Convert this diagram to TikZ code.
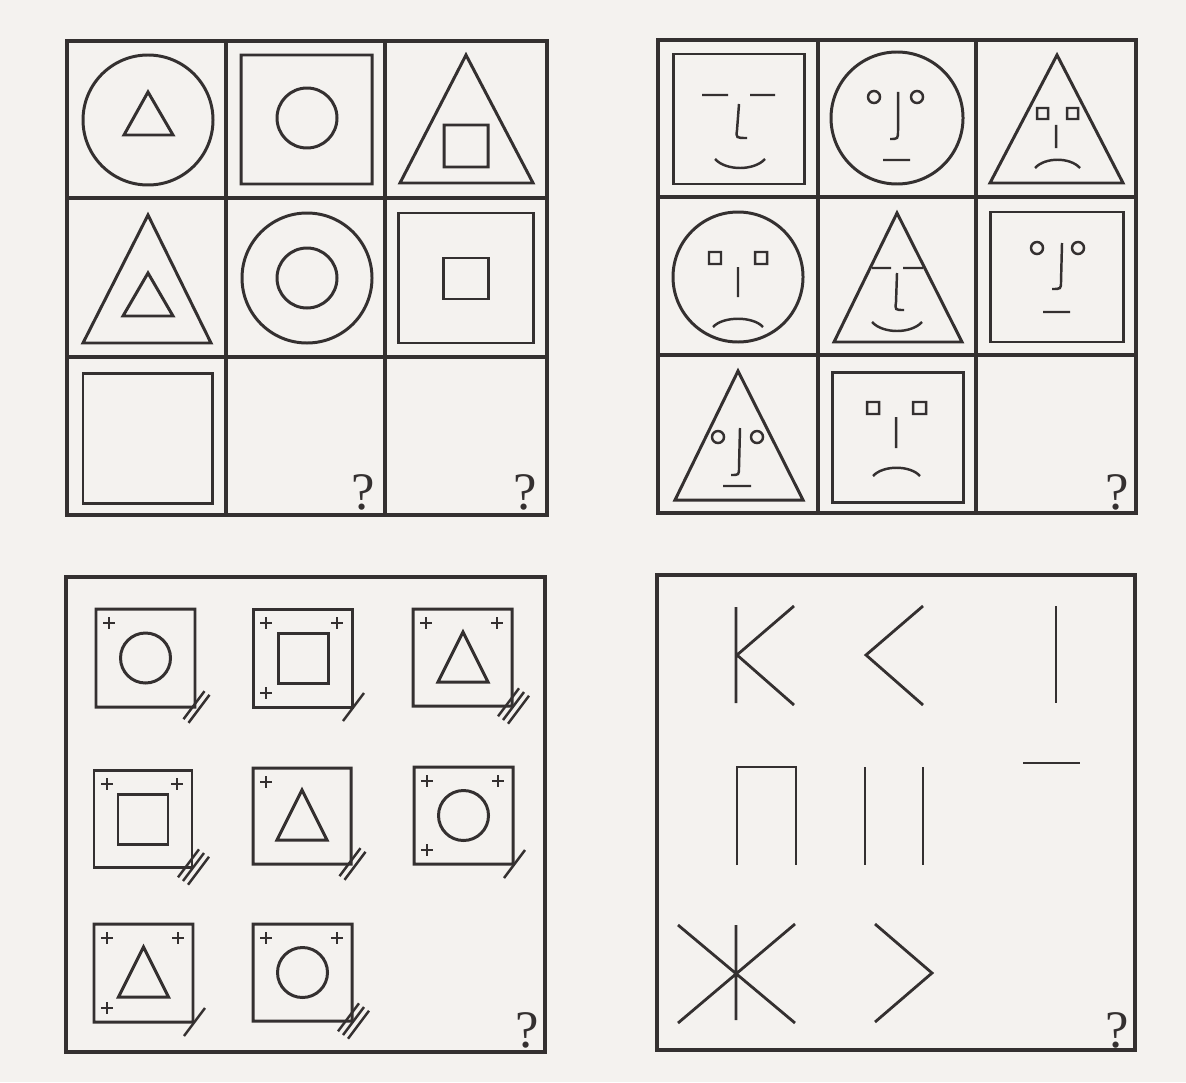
\documentclass[tikz,border=0pt]{standalone}
\usepackage{fontspec}
\newfontfamily\qfont{Liberation Serif}
\definecolor{ink}{RGB}{52,48,48}
\definecolor{paper}{RGB}{244,242,239}
% small marks of the third panel
\newcommand\plusmark[2]{\draw[feat] (#1-6,#2) -- (#1+6,#2) (#1,#2-6) -- (#1,#2+6);}
\newcommand\hatchmarks[3]{\foreach \k in {1,...,#3}
  {\draw[hatch] ({#1+5*(\k-(#3+1)/2)-9},{#2+3.7*(\k-(#3+1)/2)+14}) -- ++(21,-28);}}
\begin{document}
\begin{tikzpicture}[x=0.01cm, y=-0.01cm,
  frame/.style={draw=ink, line width=0.95pt},
  shp/.style={draw=ink, line width=0.85pt},
  feat/.style={draw=ink, line width=0.7pt},
  hatch/.style={draw=ink, line width=0.7pt},
  stroke/.style={draw=ink, line width=0.8pt},
  qm/.style={font=\qfont\fontsize{15}{15}\selectfont, text=ink, inner sep=0pt}
]
\fill[paper] (0,0) rectangle (1186,1082);
\useasboundingbox (0,0) rectangle (1186,1082);

% panel 1: shapes in shapes
\draw[frame] (67,41) rectangle (547,515)
  (226,41) -- (226,515) (385,41) -- (385,515)
  (67,198) -- (547,198) (67,357) -- (547,357);
\draw[shp] (148,120) circle (65) (148,92) -- (124,135) -- (173,135) -- cycle;
\draw[shp] (241,55) rectangle (372,184) (307,118) circle (30);
\draw[shp] (466,55) -- (400,183) -- (533,183) -- cycle (444,125) rectangle (488,167);
\draw[shp] (148,215) -- (83,343) -- (211,343) -- cycle (148,273) -- (123,316) -- (173,316) -- cycle;
\draw[shp] (307,278) circle (65) (307,278) circle (30);
\draw[shp] (398,213) rectangle (533,343) (443,258) rectangle (488,299);
\draw[shp] (83,373) rectangle (212,503);
\node[qm] (q1) at (363,492) {?};
\node[qm] (q2) at (525,492) {?};

% panel 2: faces
\draw[frame] (658,40) rectangle (1136,513)
  (818,40) -- (818,513) (976,40) -- (976,513)
  (658,197) -- (1136,197) (658,355) -- (1136,355);
\draw[shp] (673,54) rectangle (804,184);
\draw[feat] (702,95) -- (728,95) (750,95) -- (775,95)
  (739,104) -- (737,130) .. controls (736,138) .. (747,138)
  (715,159) .. controls (726,171) and (754,171) .. (765,159);
\draw[shp] (897,118) circle (66);
\draw[feat] (874,97) circle (6) (917,97) circle (6)
  (898,92) -- (898,130) .. controls (898,139) .. (890,139)
  (883,160) -- (910,160);
\draw[shp] (1057,55) -- (990,183) -- (1123,183) -- cycle;
\draw[feat] (1037,108) rectangle (1048,119) (1067,108) rectangle (1078,119)
  (1056,125) -- (1056,148)
  (1035,168) .. controls (1045,157) and (1070,157) .. (1080,168);
\draw[shp] (738,277) circle (65);
\draw[feat] (709,252) rectangle (721,264) (755,252) rectangle (767,264)
  (738,267) -- (738,297)
  (713,327) .. controls (723,316) and (753,316) .. (763,327);
\draw[shp] (897,213) -- (834,342) -- (962,342) -- cycle;
\draw[feat] (872,268) -- (891,268) (903,268) -- (923,268)
  (897,273) -- (896,302) .. controls (895,310) .. (904,310)
  (872,322) .. controls (883,334) and (911,334) .. (922,322);
\draw[shp] (990,212) rectangle (1123,342);
\draw[feat] (1037,248) circle (6) (1078,248) circle (6)
  (1062,243) -- (1061,281) .. controls (1061,289) .. (1052,289)
  (1043,312) -- (1070,312);
\draw[shp] (738,371) -- (675,500) -- (803,500) -- cycle;
\draw[feat] (718,437) circle (6) (757,437) circle (6)
  (740,428) -- (739,467) .. controls (739,475) .. (731,475)
  (723,486) -- (751,486);
\draw[shp] (832,372) rectangle (963,502);
\draw[feat] (867,402) rectangle (879,414) (913,402) rectangle (926,414)
  (896,417) -- (896,448)
  (873,476) .. controls (883,465) and (910,465) .. (920,476);
\node[qm] (q3) at (1117,492) {?};

% panel 3: boxes with crosses and hatches
\draw[frame] (66,577) rectangle (545,1052);
\draw[shp] (96,609) rectangle (195,707) (145.5,658) circle (25);
\plusmark{109}{623}
\hatchmarks{195}{707}{2}
\draw[shp] (253,609) rectangle (352,707) (278,633) rectangle (328,683);
\plusmark{266}{623} \plusmark{337}{623} \plusmark{266}{693}
\hatchmarks{352}{707}{1}
\draw[shp] (413,609) rectangle (512,706) (463,632) -- (438,682) -- (488,682) -- cycle;
\plusmark{426}{623} \plusmark{497}{623}
\hatchmarks{512}{706}{3}
\draw[shp] (94,770) rectangle (192,867) (118,794) rectangle (168,844);
\plusmark{107}{784} \plusmark{177}{784}
\hatchmarks{192}{867}{3}
\draw[shp] (253,768) rectangle (351,864) (302,790) -- (277,840) -- (327,840) -- cycle;
\plusmark{266}{782}
\hatchmarks{351}{864}{2}
\draw[shp] (414,767) rectangle (513,864) (463.5,815.5) circle (25);
\plusmark{427}{781} \plusmark{498}{781} \plusmark{427}{850}
\hatchmarks{513}{864}{1}
\draw[shp] (94,924) rectangle (193,1022) (143.5,947) -- (118.5,997) -- (168.5,997) -- cycle;
\plusmark{107}{938} \plusmark{178}{938} \plusmark{107}{1008}
\hatchmarks{193}{1022}{1}
\draw[shp] (253,924) rectangle (352,1021) (302.5,972.5) circle (25);
\plusmark{266}{938} \plusmark{337}{938}
\hatchmarks{352}{1021}{3}
\node[qm] (q4) at (527,1030) {?};

% panel 4: strokes
\draw[frame] (657,575) rectangle (1135,1050);
\draw[stroke] (736,607) -- (736,703) (794,606) -- (737,655) -- (794,705);
\draw[stroke] (923,606) -- (866,655) -- (923,705);
\draw[stroke] (1056,606) -- (1056,703);
\draw[stroke] (737,865) -- (737,767) -- (796,767) -- (796,865);
\draw[stroke] (865,767) -- (865,865) (923,767) -- (923,865);
\draw[stroke] (1023,763) -- (1080,763);
\draw[stroke] (678,925) -- (795,1023) (678,1023) -- (795,924) (736,925) -- (736,1020);
\draw[stroke] (875,924) -- (932,973) -- (875,1022);
\node[qm] (q5) at (1117,1030) {?};
\end{tikzpicture}
\end{document}
